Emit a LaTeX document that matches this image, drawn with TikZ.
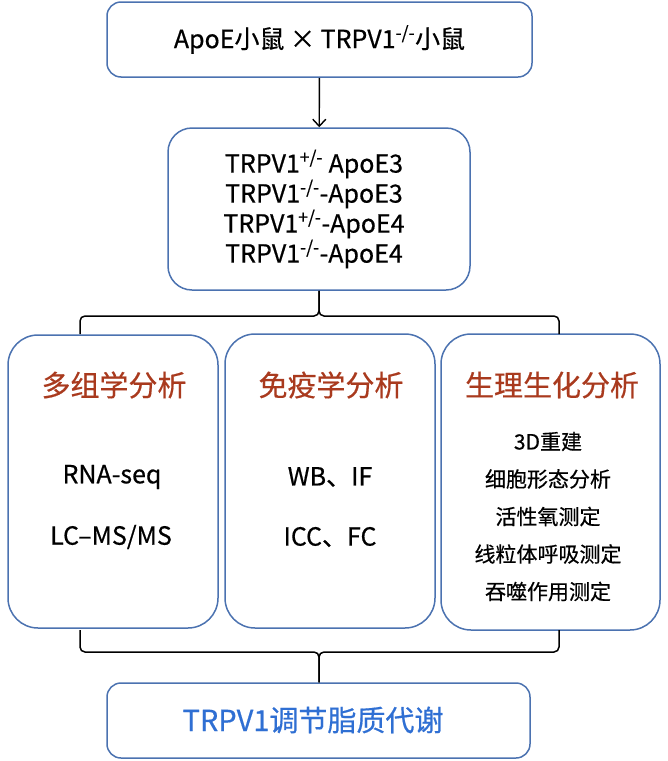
\documentclass[tikz,border=0pt]{standalone}
\usepackage{fontspec}
\setmainfont{Noto Sans CJK SC}[FakeBold=0.5]
\usepackage{xcolor}
\usetikzlibrary{arrows.meta, positioning, calc}

\begin{document}
\begin{tikzpicture}[x=1pt, y=-1pt]

\definecolor{boxblue}{HTML}{4B72B0}
\definecolor{titlered}{HTML}{A93A1E}
\definecolor{textblue}{HTML}{2F6FD3}

\tikzset{
  box/.style={draw=boxblue, line width=1.5pt, rounded corners=#1, inner sep=0pt},
  box/.default=14pt,
  title/.style={font=\fontsize{29}{32}\selectfont, text=titlered},
  item/.style={font=\fontsize{25}{28}\selectfont},
  brace/.style={draw=black, line width=1.5pt, rounded corners=5pt},
  link/.style={-{Straight Barb[length=7pt, width=13pt]}, line width=1.4pt}
}

\useasboundingbox (0,0) rectangle (668,761);

%top
\node[box, minimum width=425pt, minimum height=75pt, font=\fontsize{25}{28}\selectfont]
  (cross) at (319.5,39.5) {ApoE小鼠 × TRPV1\textsuperscript{-/-}小鼠};
\node[box=24pt, minimum width=302pt, minimum height=162pt] (geno) at (319,209) {};
\node[align=center, font=\fontsize{25}{30}\selectfont] (gt) at (314,209)
  {TRPV1\textsuperscript{+/-} ApoE3\\TRPV1\textsuperscript{-/-}-ApoE3\\
   TRPV1\textsuperscript{+/-}-ApoE4\\TRPV1\textsuperscript{-/-}-ApoE4};
\draw[link] (cross) -- (geno);

%three methods
\node[box=30pt, minimum width=210pt, minimum height=293pt] (omics) at (113,481.5) {};
\node[box=30pt, minimum width=210pt, minimum height=294pt] (immu) at (330,481) {};
\node[box=30pt, minimum width=219pt, minimum height=296pt] (phys) at (550.5,482) {};

\node[title] (t1) at (114,385) {多组学分析};
\node[title] (t2) at (331,385) {免疫学分析};
\node[title] (t3) at (552,385) {生理生化分析};

\node[item] (o1) at (112,477) {RNA-seq};
\node[item] (o2) at (111,537) {LC–MS/MS};
\node[item] (i1) at (330,477) {WB、IF};
\node[item] (i2) at (330,537) {ICC、FC};

\foreach \txt [count=\i] in {3D重建, 细胞形态分析, 活性氧测定, 线粒体呼吸测定, 吞噬作用测定} {
  \node[font=\fontsize{21}{24}\selectfont] (p\i) at (548,{404+37.5*\i}) {\txt};
}

%bottom
\node[box, minimum width=423pt, minimum height=75pt] (lipid) at (318.5,720.5) {};
\node[text=textblue, font=\fontsize{29}{32}\selectfont] (lt) at (313,720) {TRPV1调节脂质代谢};

%braces
\coordinate (ul) at (80,334);
\coordinate (ur) at (559,334);
\coordinate (uh) at (319,316);
\draw[brace] (ul) -- (ul |- uh) -- (uh) -- (geno.south);
\draw[brace] (ur) -- (ur |- uh) -- (uh) -- (geno.south);

\coordinate (ll) at (80,630);
\coordinate (lr) at (559,630);
\coordinate (lh) at (319,652);
\draw[brace] (ll) -- (ll |- lh) -- (lh) -- (lh |- lipid.north);
\draw[brace] (lr) -- (lr |- lh) -- (lh) -- (lh |- lipid.north);
\end{tikzpicture}
\end{document}
